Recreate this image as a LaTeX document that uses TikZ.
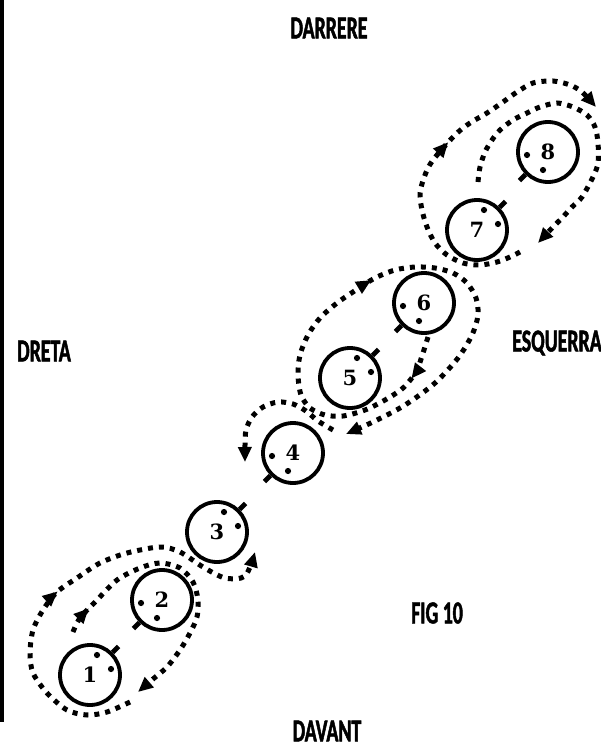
\documentclass[tikz,border=0pt]{standalone}
\usepackage{fontspec}
\usetikzlibrary{arrows.meta,decorations.markings}
\newfontfamily\labelfont{Carlito}[FakeStretch=0.62,BoldFeatures={FakeBold=1.5}]
\newfontfamily\numfont{DejaVu Serif}

\begin{document}
\begin{tikzpicture}[x=1pt,y=-1pt,
  player/.style={draw, circle, line width=3.8pt, minimum size=60pt, inner sep=0pt,
    font=\numfont\bfseries\fontsize{21}{21}\selectfont},
  facing/.style={line width=4.8pt},
  run/.style={line width=5pt, dash pattern=on 5pt off 6pt},
  tip/.style={-{Triangle[length=15pt,width=13pt]}},
  midtip/.style={postaction={decorate,decoration={markings,
    mark=at position #1 with {\arrow{Triangle[length=15pt,width=13pt]}}}}},
  side/.style={inner sep=0pt, font=\labelfont\bfseries\fontsize{32}{32}\selectfont}]
\useasboundingbox (0,0) rectangle (601,749);
\fill (0,0) rectangle (4,722);

% jugadors
\node[player] (p1) at (90,675) {1};
\node[player] (p2) at (162,600) {2};
\node[player] (p3) at (217,532) {3};
\node[player] (p4) at (293,453) {4};
\node[player] (p5) at (350,378) {5};
\node[player] (p6) at (424,303) {6};
\node[player] (p7) at (477,230) {7};
\node[player] (p8) at (548,152) {8};
\foreach \n in {1,3,5,7} {
  \draw[facing] (p\n.45) -- ++(6,-6);
  \fill (p\n) ++(7,-20) circle (3.1) (p\n) ++(21,-6) circle (3.1);
}
\foreach \n in {2,4,6,8} {
  \draw[facing] (p\n.225) -- ++(-6,6);
  \fill (p\n) ++(-21,3) circle (3.1) (p\n) ++(-5,18) circle (3.1);
}

% desplacaments
\draw[run, tip, midtip=0.47] plot[smooth] coordinates {(130,702) (107,712) (87,715)
  (67,710) (47,693) (33,673) (30,653) (33,630) (43,610) (57,592) (77,578) (100,563)
  (127,553) (160,547) (180,552) (203,567) (225,578) (245,576) (255,552)};
\draw[run, tip, midtip=0.1] plot[smooth] coordinates {(73,632) (80,618) (97,600)
  (117,580) (140,568) (160,563) (180,568) (193,582) (198,600) (197,617) (190,633)
  (180,650) (167,667) (153,679) (138,692)};
\draw[run, tip] plot[smooth] coordinates {(333,430) (318,421) (306,411) (293,404)
  (278,402) (263,407) (252,417) (246,430) (245,445) (245,462)};
\draw[run, tip, midtip=0.07, midtip=0.5] plot[smooth] coordinates {(428,337)
  (422,356) (416,372) (403,388) (385,400) (365,410) (343,416) (325,415) (310,408)
  (301,395) (298,375) (300,355) (308,335) (320,318) (337,303) (356,290) (375,278)
  (395,270) (415,267) (435,268) (453,273) (467,283) (476,298) (478,315) (472,335)
  (458,358) (435,383) (405,405) (375,421) (346,434)};
\draw[run, tip, midtip=0.54] plot[smooth] coordinates {(520,252) (510,257) (497,262)
  (480,265) (463,263) (447,255) (435,243) (427,227) (422,210) (420,193) (425,175)
  (433,160) (455,135) (470,123) (487,113) (503,102) (517,92) (533,83) (553,81)
  (570,85) (582,92) (596,107)};
\draw[run, tip] plot[smooth] coordinates {(478,182) (480,167) (485,152) (492,140)
  (500,130) (513,120) (527,113) (540,107) (557,103) (573,107) (587,115) (595,127)
  (598,143) (598,163) (593,177) (582,197) (572,207) (562,218) (553,227) (538,243)};

% orientacio
\node[side] (back) at (329,28) {DARRERE};
\node[side] (right) at (44,351) {DRETA};
\node[side] (left) at (557,343) {ESQUERRA};
\node[side] (fig) at (437,613) {FIG 10};
\node[side] (front) at (327,731) {DAVANT};
\end{tikzpicture}
\end{document}
